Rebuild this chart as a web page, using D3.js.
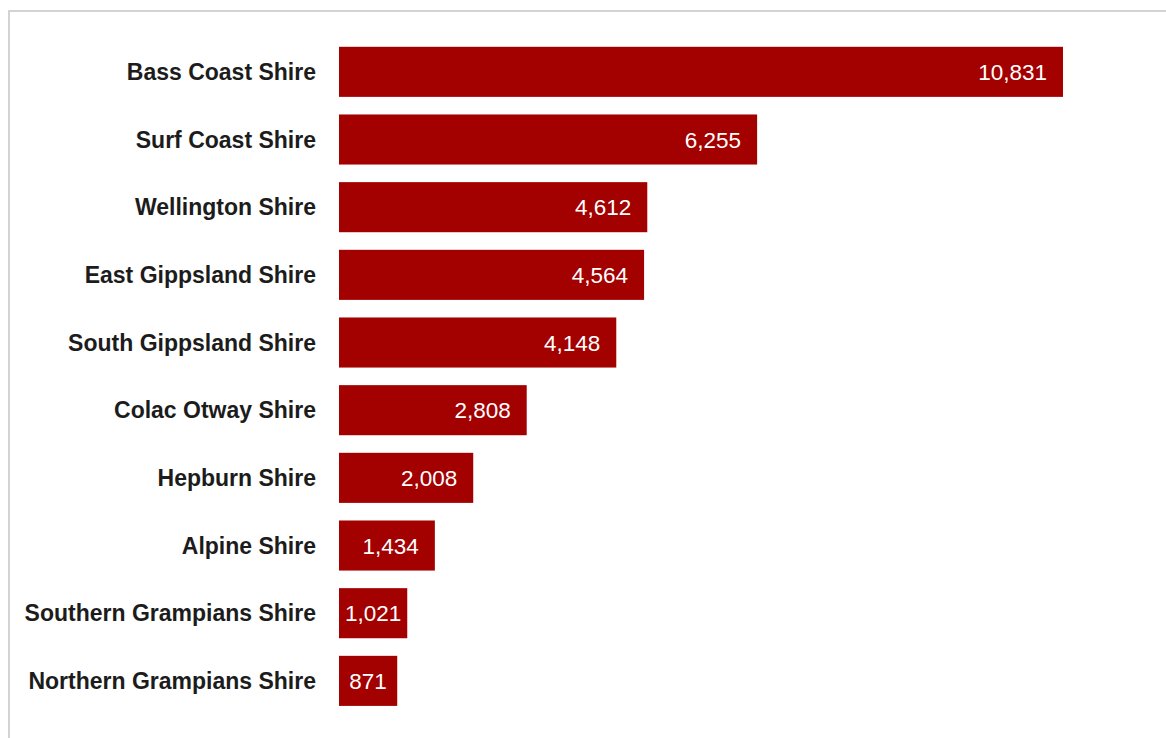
<!DOCTYPE html>
<html>
<head>
<meta charset="utf-8">
<script src="https://cdn.jsdelivr.net/npm/d3@7"></script>
<style>
  html, body { margin: 0; padding: 0; background: #fff; }
  svg { display: block; }
</style>
</head>
<body>
<svg id="chart" width="1166" height="738"></svg>
<script>
const categories = [
  "Bass Coast Shire",
  "Surf Coast Shire",
  "Wellington Shire",
  "East Gippsland Shire",
  "South Gippsland Shire",
  "Colac Otway Shire",
  "Hepburn Shire",
  "Alpine Shire",
  "Southern Grampians Shire",
  "Northern Grampians Shire"
];
const values = [10831, 6255, 4612, 4564, 4148, 2808, 2008, 1434, 1021, 871];

const svg = d3.select("#chart");
const W = 1166, H = 738;

// frame border
svg.append("rect")
  .attr("x", 9).attr("y", 11)
  .attr("width", W + 20).attr("height", H + 20)
  .attr("fill", "none")
  .attr("stroke", "#c9c9c9")
  .attr("stroke-width", 1.6);

const x0 = 339;
const x = d3.scaleLinear().domain([0, 10831]).range([x0, 1063]);
const y = d3.scaleBand().domain(categories).range([38, 38 + 67.67 * 10]).paddingInner(0.26).paddingOuter(0.13);

const fmt = d3.format(",");
const barColor = "#a30000";

const g = svg.append("g");

g.selectAll("rect.bar")
  .data(categories)
  .join("rect")
  .attr("class", "bar")
  .attr("x", x(0))
  .attr("y", d => y(d))
  .attr("width", (d, i) => x(values[i]) - x(0))
  .attr("height", y.bandwidth())
  .attr("fill", barColor);

// category labels
g.selectAll("text.cat")
  .data(categories)
  .join("text")
  .attr("class", "cat")
  .attr("x", 316)
  .attr("y", d => y(d) + y.bandwidth() / 2)
  .attr("dy", "0.35em")
  .attr("text-anchor", "end")
  .attr("font-family", "Liberation Sans, Arial, sans-serif")
  .attr("font-weight", "bold")
  .attr("font-size", 23)
  .attr("fill", "#1c1c1c")
  .text(d => d);

// value labels
const vl = g.selectAll("text.val")
  .data(categories)
  .join("text")
  .attr("class", "val")
  .attr("y", d => y(d) + y.bandwidth() / 2)
  .attr("dy", "0.36em")
  .attr("font-family", "Liberation Sans, Arial, sans-serif")
  .attr("font-size", 22.5)
  .attr("fill", "#ffffff")
  .text((d, i) => fmt(values[i]));

vl.each(function(d, i) {
  const t = d3.select(this);
  const tw = this.getComputedTextLength();
  const bw = x(values[i]) - x(0);
  if (tw + 32 > bw) {
    t.attr("x", x(0) + bw / 2).attr("text-anchor", "middle");
  } else {
    t.attr("x", x(values[i]) - 16).attr("text-anchor", "end");
  }
});
</script>
</body>
</html>
